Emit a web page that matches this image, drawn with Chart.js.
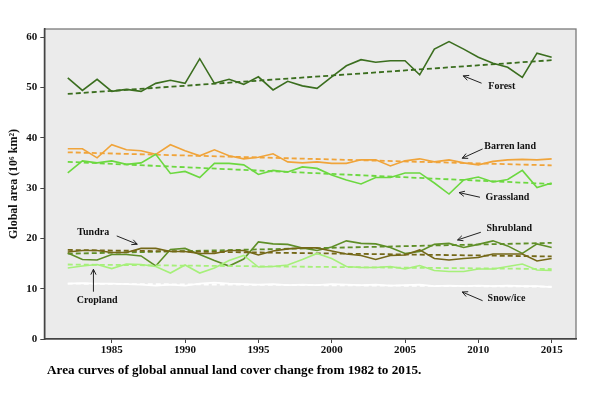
<!DOCTYPE html>
<html>
<head>
<meta charset="utf-8">
<script src="https://cdn.jsdelivr.net/npm/chart.js@4"></script>
<style>
  body { margin: 0; background: #fff; }
  #wrap { position: relative; width: 600px; height: 393px; }
  #caption {
    position: absolute; left: 47px; top: 362px;
    font: bold 13.2px "Liberation Serif", "DejaVu Serif", serif;
    color: #000; white-space: nowrap;
  }
</style>
</head>
<body>
<div id="wrap">
  <canvas id="chart" width="600" height="393"></canvas>
  <div id="caption">Area curves of global annual land cover change from 1982 to 2015.</div>
</div>
<script>
const years = [1982, 1983, 1984, 1985, 1986, 1987, 1988, 1989, 1990, 1991, 1992, 1993,
  1994, 1995, 1996, 1997, 1998, 1999, 2000, 2001, 2002, 2003, 2004, 2005,
  2006, 2007, 2008, 2009, 2010, 2011, 2012, 2013, 2014, 2015];

const forest = [51.9, 49.4, 51.6, 49.2, 49.6, 49.2, 50.8, 51.4, 50.8, 55.7, 50.8, 51.6,
  50.6, 52.1, 49.5, 51.2, 50.3, 49.8, 52.1, 54.3, 55.5, 55.0, 55.3,
  55.3, 52.5, 57.6, 59.1, 57.6, 56.0, 54.8, 54.0, 52.0, 56.8, 56.0];
const barren = [37.8, 37.8, 36.0, 38.6, 37.6, 37.4, 36.7, 38.6, 37.4, 36.4, 37.6, 36.4,
  35.8, 36.1, 36.8, 35.2, 35.0, 35.2, 34.9, 34.9, 35.6, 35.6, 34.4,
  35.4, 35.8, 35.2, 35.6, 35.0, 34.6, 35.3, 35.6, 35.7, 35.6, 35.8];
const grassland = [33.0, 35.4, 35.0, 35.4, 34.7, 35.0, 36.7, 32.9, 33.3, 32.1, 34.9, 34.9,
  34.6, 32.7, 33.5, 33.2, 34.2, 33.9, 32.6, 31.6, 30.8, 32.1, 32.1,
  33.0, 33.0, 31.0, 28.8, 31.6, 32.2, 31.2, 31.7, 33.5, 30.1, 31.0];
const shrubland = [17.1, 15.8, 15.7, 16.8, 16.8, 16.5, 14.5, 17.8, 18.0, 16.8, 15.6, 14.5,
  15.9, 19.3, 18.9, 18.8, 18.1, 17.6, 18.3, 19.5, 19.0, 18.9, 18.2,
  17.0, 17.4, 18.8, 19.0, 18.2, 18.8, 19.5, 18.5, 17.0, 18.9, 18.2];
const tundra = [17.3, 17.6, 17.6, 17.2, 17.2, 18.0, 18.0, 17.4, 17.4, 17.0, 17.0, 17.6,
  17.6, 16.7, 17.5, 17.9, 18.1, 18.1, 17.5, 16.9, 16.6, 15.8, 16.6,
  16.7, 17.7, 16.0, 15.7, 16.0, 16.2, 16.9, 16.9, 16.9, 15.5, 16.0];
const cropland = [14.1, 14.5, 14.8, 14.0, 14.9, 14.8, 14.4, 13.1, 14.7, 13.1, 14.1, 15.6,
  16.6, 14.3, 14.4, 14.7, 15.8, 17.0, 16.0, 14.4, 14.2, 14.2, 14.4,
  13.9, 14.6, 13.6, 13.4, 13.4, 13.9, 13.9, 14.4, 14.9, 13.7, 13.6];
const snowIce = [11.0, 11.1, 11.0, 11.0, 10.9, 10.8, 10.6, 10.8, 10.6, 11.0, 11.2, 11.0,
  10.9, 10.8, 10.9, 10.7, 10.8, 10.7, 10.9, 10.8, 10.7, 10.8, 10.6,
  10.7, 10.8, 10.5, 10.6, 10.5, 10.6, 10.5, 10.6, 10.5, 10.5, 10.3];

// linear trend, value at 1982 and at 2015
const trendYears = [1982, 2015];
const forestTrend = [48.7, 55.4];
const barrenTrend = [37.1, 34.5];
const grasslandTrend = [35.2, 30.8];
const shrublandTrend = [16.95, 19.1];
const tundraTrend = [17.7, 16.4];
const croplandTrend = [14.8, 13.9];
const snowIceTrend = [11.0, 10.4];

const xTicks = [1985, 1990, 1995, 2000, 2005, 2010, 2015];
const yTicks = [0, 10, 20, 30, 40, 50, 60];

// labels: text position and arrow (from -> to), in data units
const labelNames = ["Forest", "Barren land", "Grassland", "Shrubland", "Snow/ice", "Tundra", "Cropland"];
const labelAt = [[2010.68, 50.16], [2010.40, 38.23], [2010.49, 28.17], [2010.56, 21.93],
  [2010.63, 8.01], [1982.65, 21.13], [1982.61, 7.75]];
const arrowFrom = [[2010.22, 50.83], [2010.29, 37.77], [2010.11, 28.17], [2010.17, 21.21],
  [2010.29, 7.61], [1985.34, 20.48], [1983.75, 9.40]];
const arrowTo = [[2008.97, 52.29], [2008.90, 35.92], [2008.69, 29.09], [2008.58, 19.68],
  [2008.90, 9.34], [1986.74, 18.83], [1983.75, 13.86]];

document.addEventListener("DOMContentLoaded", function () {
  const serif = '"Liberation Serif", "DejaVu Serif", serif';

  function series(label, values, color) {
    return {
      label: label,
      data: years.map((y, i) => ({ x: y, y: values[i] })),
      borderColor: color,
      borderWidth: 1.6,
      pointRadius: 0,
      tension: 0,
      fill: false,
    };
  }

  function trend(label, values, color) {
    return {
      label: label,
      data: trendYears.map((y, i) => ({ x: y, y: values[i] })),
      borderColor: color,
      borderWidth: 1.8,
      borderDash: [5, 3],
      pointRadius: 0,
      fill: false,
    };
  }

  const colors = {
    forest: "#3b6e1f",
    barren: "#f0a43a",
    grass: "#6cd840",
    shrub: "#5f8f28",
    tundra: "#746818",
    crop: "#a6f07a",
    snow: "#ffffff",
  };

  // plot background and frame
  const framePlugin = {
    id: "frame",
    beforeDraw(chart) {
      const { ctx, chartArea: a } = chart;
      ctx.save();
      ctx.fillStyle = "#ebebeb";
      ctx.fillRect(a.left, a.top, a.right - a.left, a.bottom - a.top);
      ctx.strokeStyle = "#7a7a7a";
      ctx.lineWidth = 1.3;
      ctx.strokeRect(a.left, a.top, a.right - a.left, a.bottom - a.top);
      ctx.restore();
    },
  };

  // text labels with arrows
  const labelPlugin = {
    id: "labels",
    afterDatasetsDraw(chart) {
      const { ctx } = chart;
      const xs = chart.scales.x;
      const ys = chart.scales.y;
      ctx.save();
      ctx.font = "bold 10px " + serif;
      ctx.fillStyle = "#111";
      ctx.textBaseline = "middle";
      ctx.textAlign = "left";
      labelNames.forEach((name, i) => {
        ctx.fillText(name, xs.getPixelForValue(labelAt[i][0]), ys.getPixelForValue(labelAt[i][1]));

        const x1 = xs.getPixelForValue(arrowFrom[i][0]);
        const y1 = ys.getPixelForValue(arrowFrom[i][1]);
        const x2 = xs.getPixelForValue(arrowTo[i][0]);
        const y2 = ys.getPixelForValue(arrowTo[i][1]);
        const ang = Math.atan2(y2 - y1, x2 - x1);
        ctx.strokeStyle = "#222";
        ctx.lineWidth = 1;
        ctx.beginPath();
        ctx.moveTo(x1, y1);
        ctx.lineTo(x2, y2);
        ctx.moveTo(x2 - 6 * Math.cos(ang - 0.45), y2 - 6 * Math.sin(ang - 0.45));
        ctx.lineTo(x2, y2);
        ctx.lineTo(x2 - 6 * Math.cos(ang + 0.45), y2 - 6 * Math.sin(ang + 0.45));
        ctx.stroke();
      });
      ctx.restore();
    },
  };

  const ctx = document.getElementById("chart").getContext("2d");
  new Chart(ctx, {
    type: "line",
    data: {
      datasets: [
        series("Snow/ice", snowIce, colors.snow),
        trend("Snow/ice trend", snowIceTrend, colors.snow),
        series("Cropland", cropland, colors.crop),
        trend("Cropland trend", croplandTrend, colors.crop),
        series("Tundra", tundra, colors.tundra),
        trend("Tundra trend", tundraTrend, colors.tundra),
        series("Shrubland", shrubland, colors.shrub),
        trend("Shrubland trend", shrublandTrend, colors.shrub),
        series("Grassland", grassland, colors.grass),
        trend("Grassland trend", grasslandTrend, colors.grass),
        series("Barren land", barren, colors.barren),
        trend("Barren land trend", barrenTrend, colors.barren),
        series("Forest", forest, colors.forest),
        trend("Forest trend", forestTrend, colors.forest),
      ],
    },
    options: {
      responsive: false,
      animation: false,
      layout: { padding: { top: 29, right: 24, left: 0, bottom: 0 } },
      plugins: {
        legend: { display: false },
        tooltip: { enabled: false },
      },
      scales: {
        x: {
          type: "linear",
          min: 1980.4,
          max: 2016.66,
          afterBuildTicks: (scale) => {
            scale.ticks = xTicks.map((v) => ({ value: v }));
          },
          afterFit: (scale) => {
            scale.height = 54;
          },
          ticks: {
            color: "#111",
            padding: 1,
            maxRotation: 0,
            font: { family: serif, size: 11, weight: "bold" },
            callback: (v) => String(v),
          },
          grid: {
            drawOnChartArea: false,
            tickLength: 4,
            tickColor: "#444",
          },
          border: { color: "#444", width: 1.5 },
        },
        y: {
          min: 0,
          max: 61.6,
          afterBuildTicks: (scale) => {
            scale.ticks = yTicks.map((v) => ({ value: v }));
          },
          afterFit: (scale) => {
            scale.width = 44.3;
          },
          ticks: {
            color: "#111",
            padding: 3,
            font: { family: serif, size: 11, weight: "bold" },
          },
          grid: {
            drawOnChartArea: false,
            tickLength: 4,
            tickColor: "#444",
          },
          border: { color: "#444", width: 1.5 },
          title: {
            display: true,
            text: "Global area (10\u2076 km\u00b2)",
            color: "#111",
            padding: { top: 7, bottom: 0 },
            font: { family: serif, size: 12, weight: "bold" },
          },
        },
      },
    },
    plugins: [framePlugin, labelPlugin],
  });
});
</script>
</body>
</html>
